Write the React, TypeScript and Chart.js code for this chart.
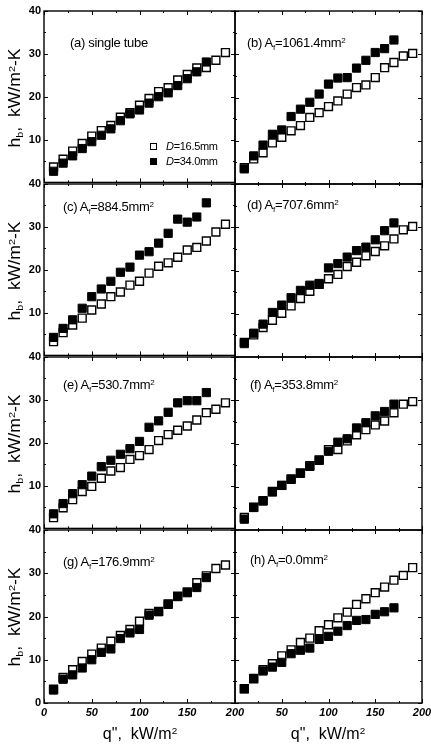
import React, { useEffect, useRef } from 'react';
import { Chart, registerables } from 'chart.js';

Chart.register(...registerables);

// heat flux q'' (kW/m2) for each measured point
const heatFlux = [10, 20, 30, 40, 50, 60, 70, 80, 90, 100, 110, 120, 130, 140, 150, 160, 170, 180, 190];

// h_b (kW/m2-K): open squares D=16.5mm, filled squares D=34.0mm
const singleSmall = [3.6, 5.4, 7.3, 9.1, 10.8, 12.1, 13.3, 15.2, 16.3, 18.0, 19.6, 21.2, 22.1, 23.9, 25.2, 26.7, 26.8, 28.5, 30.3];
const singleLarge = [2.6, 4.5, 6.2, 7.9, 9.5, 11.0, 12.5, 14.4, 16.0, 16.9, 18.5, 20.0, 20.9, 22.6, 24.2, 25.8, 28.1];

const a1061Small = [3.8, 5.8, 7.2, 9.5, 10.8, 12.3, 13.5, 15.4, 16.5, 17.9, 19.2, 20.8, 22.3, 22.9, 24.6, 26.9, 28.1, 29.6, 30.2];
const a1061Large = [3.5, 6.5, 9.0, 11.5, 12.5, 15.6, 17.3, 18.9, 20.8, 23.1, 24.5, 24.6, 26.8, 28.6, 30.4, 31.3, 33.3];

const a884Small = [3.2, 5.3, 7.1, 8.7, 10.6, 12.0, 13.7, 14.8, 16.4, 17.3, 19.2, 20.8, 21.6, 22.9, 24.6, 25.2, 26.7, 28.8, 30.6];
const a884Large = [4.2, 6.3, 8.3, 11.0, 13.7, 15.5, 17.3, 19.4, 20.6, 23.4, 24.2, 26.2, 28.5, 31.8, 31.1, 32.3, 35.6];

const a707Small = [3.4, 5.1, 6.8, 8.5, 10.1, 11.8, 13.5, 15.2, 16.8, 18.1, 19.1, 20.9, 21.9, 23.4, 24.4, 25.7, 27.3, 29.4, 30.2];
const a707Large = [3.1, 5.5, 7.6, 10.3, 12.0, 13.7, 15.4, 16.6, 17.0, 20.6, 21.6, 23.1, 24.6, 25.4, 27.1, 29.2, 31.0];

const a530Small = [2.5, 4.8, 6.7, 8.6, 9.8, 11.7, 13.4, 14.2, 16.1, 17.0, 18.4, 20.5, 21.9, 22.9, 23.9, 25.3, 27.0, 27.8, 29.3];
const a530Large = [3.4, 5.8, 8.1, 10.2, 12.2, 14.4, 15.9, 17.3, 18.6, 20.3, 23.6, 25.1, 27.1, 29.3, 29.8, 29.8, 31.7];

const a353Small = [2.9, 5.3, 6.8, 8.9, 10.3, 11.8, 13.2, 14.9, 16.2, 18.6, 18.6, 20.6, 22.0, 23.2, 24.3, 25.2, 27.1, 29.1, 29.7];
const a353Large = [2.5, 5.2, 6.7, 8.8, 10.3, 11.7, 13.1, 14.7, 16.1, 18.2, 20.3, 21.1, 23.6, 24.8, 26.4, 27.4, 29.1];

const a176Small = [3.2, 5.9, 7.7, 9.6, 11.3, 12.7, 14.3, 15.6, 17.0, 18.9, 20.7, 21.2, 22.9, 24.7, 25.7, 27.8, 29.4, 31.1, 31.9];
const a176Large = [3.0, 5.5, 6.5, 8.1, 10.0, 11.7, 12.5, 14.9, 16.2, 17.0, 20.3, 21.1, 22.8, 24.6, 25.5, 26.7, 29.0];

const a0Small = [3.3, 5.6, 7.7, 9.1, 10.9, 12.3, 14.0, 15.0, 16.7, 18.1, 19.7, 21.0, 22.8, 24.1, 25.5, 26.8, 28.4, 29.5, 31.3];
const a0Large = [3.3, 5.7, 7.4, 8.3, 9.4, 11.4, 12.2, 12.7, 14.7, 15.4, 16.6, 17.9, 19.1, 19.3, 20.5, 21.1, 22.0];

// tick values
const xMajorTicks = [0, 50, 100, 150, 200];
const xMinorTicks = [25, 75, 125, 175];
const yMajorTicks = [0, 10, 20, 30, 40];
const yMinorTicks = [5, 15, 25, 35];

// panel labels
const panelLetters = ['(a)', '(b)', '(c)', '(d)', '(e)', '(f)', '(g)', '(h)'];
const finAreas = ['', '1061.4', '884.5', '707.6', '530.7', '353.8', '176.9', '0.0'];

const legendLabels = ['D=16.5mm', 'D=34.0mm'];

const FONT = '"Liberation Sans", Arial, Helvetica, sans-serif';
const ROW_TOPS = [11, 184, 357, 530];
const ROW_H = 173;
const COL_X = [[44, 235], [235, 422]];

const framePlugin = {
  id: 'frameTicks',
  afterDraw(chart: any) {
    const { ctx, chartArea, scales } = chart;
    const { left, right, top, bottom } = chartArea;
    const x = scales.x;
    const y = scales.y;
    ctx.save();
    ctx.strokeStyle = '#000';
    ctx.lineWidth = 1;
    ctx.beginPath();
    const drawX = (v: number, len: number) => {
      const px = Math.round(x.getPixelForValue(v)) + 0.5;
      ctx.moveTo(px, bottom);
      ctx.lineTo(px, bottom - len);
      ctx.moveTo(px, top);
      ctx.lineTo(px, top + len);
    };
    const drawY = (v: number, len: number) => {
      const py = Math.round(y.getPixelForValue(v)) + 0.5;
      ctx.moveTo(left, py);
      ctx.lineTo(left + len, py);
      ctx.moveTo(right, py);
      ctx.lineTo(right - len, py);
    };
    xMajorTicks.forEach((v) => drawX(v, 4));
    xMinorTicks.forEach((v) => drawX(v, 2));
    yMajorTicks.forEach((v) => drawY(v, 4));
    yMinorTicks.forEach((v) => drawY(v, 2));
    ctx.stroke();
    ctx.lineWidth = 1.4;
    ctx.strokeRect(left, top, right - left, bottom - top);
    ctx.restore();
  },
};

type PanelProps = { open: number[]; filled: number[]; col: number; row: number };

function Panel({ open, filled, col, row }: PanelProps) {
  const ref = useRef<HTMLCanvasElement>(null);
  const [x0, x1] = COL_X[col];
  const L = 44;
  const T = 11;
  const R = 22;
  const B = row === 3 ? 20 : 8;
  const width = x1 - x0 + L + R;
  const height = ROW_H + T + B;
  const left = x0 - L;
  const top = ROW_TOPS[row] - T;

  useEffect(() => {
    if (!ref.current) return;
    const chart = new Chart(ref.current, {
      type: 'scatter',
      data: {
        datasets: [
          {
            label: legendLabels[0],
            data: open.map((v, i) => ({ x: heatFlux[i], y: v })),
            pointStyle: 'rect',
            pointRadius: 5.6,
            backgroundColor: '#ffffff',
            borderColor: '#000000',
            borderWidth: 1.4,
            order: 1,
          },
          {
            label: legendLabels[1],
            data: filled.map((v, i) => ({ x: heatFlux[i], y: v })),
            pointStyle: 'rect',
            pointRadius: 5.8,
            backgroundColor: '#000000',
            borderColor: '#000000',
            borderWidth: 1,
            order: 0,
          },
        ],
      },
      options: {
        animation: false,
        responsive: false,
        events: [],
        layout: { padding: { left: 0, top: T, right: R, bottom: 0 } },
        plugins: { legend: { display: false }, tooltip: { enabled: false } },
        scales: {
          x: {
            type: 'linear',
            min: 0,
            max: 200,
            afterBuildTicks: (s: any) => {
              s.ticks = xMajorTicks.map((v) => ({ value: v }));
            },
            afterFit: (s: any) => {
              s.height = B;
            },
            grid: { display: false, drawTicks: false },
            border: { display: false },
            ticks: {
              display: row === 3,
              autoSkip: false,
              maxRotation: 0,
              padding: 3,
              color: '#000',
              font: { family: FONT, size: 11, weight: 'bold', style: 'italic' },
              callback: (v: any) => (col === 1 && v === 0 ? '' : String(v)),
            },
          },
          y: {
            type: 'linear',
            min: 0,
            max: 40,
            afterBuildTicks: (s: any) => {
              s.ticks = yMajorTicks.map((v) => ({ value: v }));
            },
            afterFit: (s: any) => {
              s.width = L;
            },
            grid: { display: false, drawTicks: false },
            border: { display: false },
            ticks: {
              display: col === 0,
              padding: 3,
              color: '#000',
              font: { family: FONT, size: 11, weight: 'bold' },
              callback: (v: any) => (v === 0 && row !== 3 ? '' : String(v)),
            },
          },
        },
      } as any,
      plugins: [framePlugin],
    });
    return () => chart.destroy();
  }, []);

  return (
    <canvas
      ref={ref}
      width={width}
      height={height}
      style={{ position: 'absolute', left, top, width, height }}
    />
  );
}

const subStyle: React.CSSProperties = { fontSize: '0.62em', position: 'relative', top: '0.35em' };
const supStyle: React.CSSProperties = { fontSize: '0.62em', position: 'relative', top: '-0.55em' };

function PanelLabel({ idx, x, y }: { idx: number; x: number; y: number }) {
  return (
    <div
      style={{
        position: 'absolute',
        left: x,
        top: y - 8,
        fontSize: 13,
        lineHeight: '16px',
        whiteSpace: 'nowrap',
        letterSpacing: '-0.3px',
        color: '#000',
      }}
    >
      {idx === 0 ? (
        <span>{panelLetters[0]} single tube</span>
      ) : (
        <span>
          {panelLetters[idx]} A<span style={subStyle}>f</span>={finAreas[idx]}mm<span style={supStyle}>2</span>
        </span>
      )}
    </div>
  );
}

function YTitle({ cy }: { cy: number }) {
  return (
    <div
      style={{
        position: 'absolute',
        left: 16,
        top: cy,
        fontSize: 16,
        lineHeight: '18px',
        whiteSpace: 'nowrap',
        color: '#000',
        transform: 'translate(-50%, -50%) rotate(-90deg) scaleX(1.1)',
      }}
    >
      h<span style={subStyle}>b</span>,&nbsp; kW/m<span style={supStyle}>2</span>-K
    </div>
  );
}

function XTitle({ cx }: { cx: number }) {
  return (
    <div
      style={{
        position: 'absolute',
        left: cx,
        top: 735,
        fontSize: 16,
        lineHeight: '18px',
        whiteSpace: 'nowrap',
        color: '#000',
        transform: 'translate(-50%, -50%)',
      }}
    >
      q",&nbsp; kW/m<span style={supStyle}>2</span>
    </div>
  );
}

export default function App() {
  const panels = [
    { open: singleSmall, filled: singleLarge },
    { open: a1061Small, filled: a1061Large },
    { open: a884Small, filled: a884Large },
    { open: a707Small, filled: a707Large },
    { open: a530Small, filled: a530Large },
    { open: a353Small, filled: a353Large },
    { open: a176Small, filled: a176Large },
    { open: a0Small, filled: a0Large },
  ];
  const labelPos = [
    [70, 43],
    [247, 43],
    [63, 207],
    [247, 205],
    [63, 385],
    [250, 385],
    [63, 562],
    [250, 560],
  ];
  return (
    <div
      style={{
        position: 'absolute',
        left: 0,
        top: 0,
        width: 431,
        height: 745,
        overflow: 'hidden',
        background: '#fff',
        fontFamily: FONT,
      }}
    >
      {panels.map((p, i) => (
        <Panel key={i} open={p.open} filled={p.filled} col={i % 2} row={Math.floor(i / 2)} />
      ))}
      {panels.map((_, i) => (
        <PanelLabel key={'l' + i} idx={i} x={labelPos[i][0]} y={labelPos[i][1]} />
      ))}
      {ROW_TOPS.map((t, i) => (
        <YTitle key={'y' + i} cy={t + ROW_H / 2} />
      ))}
      <XTitle cx={140} />
      <XTitle cx={328} />
      {/* legend in panel (a) */}
      <div style={{ position: 'absolute', left: 150, top: 143, width: 5, height: 5, border: '1px solid #000', background: '#fff' }} />
      <div style={{ position: 'absolute', left: 150, top: 158, width: 7, height: 7, background: '#000' }} />
      <div style={{ position: 'absolute', left: 166, top: 139, fontSize: 11, lineHeight: '14px', whiteSpace: 'nowrap', letterSpacing: '-0.3px' }}>
        <i>D</i>
        {legendLabels[0].slice(1)}
      </div>
      <div style={{ position: 'absolute', left: 166, top: 154, fontSize: 11, lineHeight: '14px', whiteSpace: 'nowrap', letterSpacing: '-0.3px' }}>
        <i>D</i>
        {legendLabels[1].slice(1)}
      </div>
    </div>
  );
}
